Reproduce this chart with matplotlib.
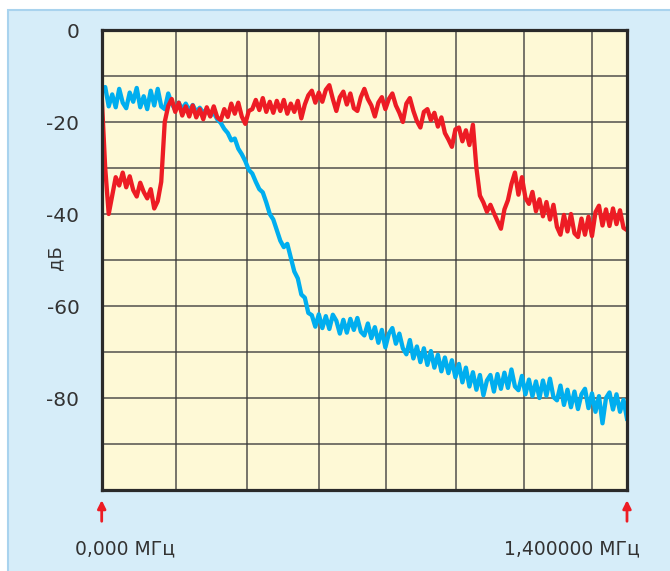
import numpy as np
import matplotlib.pyplot as plt
from matplotlib.patches import Rectangle
import matplotlib.transforms as mtransforms

# sweep 0 .. 1.4 MHz, levels in dB
f_start = 0.0
f_stop = 1.4

blue_db = [-13.5, -12.4, -16.6, -14.0, -16.8, -12.8, -15.8, -17.0, -13.6, -15.6,
           -12.6, -16.8, -14.4, -17.2, -13.2, -16.4, -12.8, -16.6, -17.2, -13.8,
           -16.0, -17.4,
           -15.8, -17.2, -16.0, -17.5, -16.3, -17.8, -16.9, -18.0, -17.2, -18.6,
           -18.0, -19.4, -20.2, -21.5, -22.4, -24.0, -23.6, -25.8, -27.0, -28.5,
           -30.4, -31.2, -33.0, -34.6, -35.3, -37.5, -40.0, -41.2, -43.5, -45.8,
           -47.2, -46.5, -49.5, -52.5, -54.0, -57.5, -58.2, -61.5,
           -62.0, -64.5, -61.8, -64.8, -62.2, -65.0, -61.9, -63.2, -66.0, -63.0,
           -65.8, -62.8, -65.2,
           -62.6, -65.6, -66.4, -63.8, -67.0, -64.6, -68.0, -65.2, -69.0, -66.0,
           -64.8, -68.2, -66.0, -69.2,
           -70.5, -67.4, -71.4, -68.8, -72.2, -69.2, -72.8, -69.8, -73.4, -70.6,
           -74.2, -71.2, -74.6, -71.8, -75.5, -72.6, -76.6, -73.4, -77.5, -74.4,
           -78.2, -75.0, -79.4, -76.2,
           -75.0, -78.6, -74.8, -78.0, -74.5, -77.8, -73.8, -77.5, -78.3, -75.2,
           -79.2, -76.0, -79.6, -76.4, -80.0, -76.2, -79.5, -75.8, -79.8, -80.5,
           -77.3, -81.5, -78.2, -82.0, -78.6, -82.4, -79.2, -78.0, -82.2, -79.0,
           -83.0, -79.6, -85.5, -80.0, -78.8, -82.5, -79.2, -83.0, -80.4, -84.5]

red_db = [-14.5, -30.0, -40.0, -36.0, -32.0, -33.8, -31.0, -34.2, -31.8, -34.8,
          -36.2, -33.2, -35.2, -36.6, -34.6, -38.8, -37.2, -33.0, -20.0, -16.5,
          -15.0, -17.8, -15.8, -18.6, -16.6, -18.8, -16.4, -19.0, -17.2, -19.4,
          -16.8, -18.8, -16.6, -19.0, -19.6, -17.2, -18.9, -16.0, -18.2, -15.8,
          -18.8, -20.4, -17.6, -17.2, -15.2, -17.4, -14.8, -17.8, -15.6, -18.0,
          -15.4, -17.6, -15.2, -18.2, -16.0, -17.8, -15.4, -19.2, -16.2, -14.2,
          -13.2, -15.8, -13.6, -15.6, -13.0, -12.0, -15.0, -17.6, -14.6, -13.4,
          -16.2, -13.8, -17.0, -17.6, -14.6, -12.8, -15.0, -16.4, -18.8, -15.8,
          -14.6, -17.2, -15.0, -13.8, -16.4, -18.0, -20.0, -16.0, -14.8, -17.6,
          -19.8, -21.2, -17.8, -17.2, -19.6, -18.0, -21.0, -19.0, -22.4, -23.8,
          -25.4, -21.6, -21.2, -24.2, -21.8, -25.0, -20.6, -30.0, -36.0, -37.5,
          -39.5, -38.0, -39.8,
          -41.5, -43.2, -39.0, -37.0, -33.5, -31.0, -35.8, -32.0, -36.5, -37.8,
          -35.2, -39.4, -36.8, -40.5, -37.4, -41.2, -38.0, -42.8, -44.5, -40.2,
          -43.8, -40.0, -44.2, -45.0, -41.0, -44.5, -40.6, -44.8, -39.6, -38.2,
          -42.5, -39.0, -42.6, -38.8, -42.2, -39.2, -43.0, -43.5]

x_grid = [0.199, 0.388, 0.579, 0.757, 0.943, 1.126, 1.306]
y_grid = [-10, -20, -30, -40, -50, -60, -70, -80, -90]
y_labels = ['0', '-20', '-40', '-60', '-80']

freq = np.linspace(f_start, f_stop, len(blue_db))

fig = plt.figure(figsize=(6.7, 5.71), dpi=100)
fig.patch.set_facecolor('white')
fig.patches.append(Rectangle((8 / 670, -0.05), 1.1, 1 - 10 / 571 + 0.05,
                             transform=fig.transFigure, facecolor='#D6EDF9',
                             edgecolor='#A9D3EE', lw=1.5, zorder=-1))

ax = fig.add_axes([101.7 / 670, 1 - 490 / 571, 525.3 / 670, 460 / 571])
ax.set_zorder(2)
ax.set_facecolor('#FEF9D6')
ax.set_xlim(f_start, f_stop)
ax.set_ylim(-100, 0)

for g in x_grid:
    ax.axvline(g, color='#3a3a3a', lw=1.3, alpha=0.75, zorder=1)
for g in y_grid:
    ax.axhline(g, color='#3a3a3a', lw=1.3, alpha=0.75, zorder=1)

ax.plot(freq, blue_db, color='#00AEEF', lw=3.1, zorder=3)
ax.plot(freq, red_db, color='#ED1C24', lw=3.1, zorder=4)

ax.set_xticks([])
ax.set_yticks([0, -20, -40, -60, -80])
ax.set_yticklabels(y_labels)
ax.tick_params(axis='y', length=0, pad=16, labelsize=14.5, labelcolor='#333333')
for s in ax.spines.values():
    s.set_linewidth(2.3)
    s.set_color('#2a2a2a')
    s.set_zorder(5)

fig.text(55 / 670, 1 - 258 / 571, 'дБ', rotation=90, ha='center', va='center',
         fontsize=13, color='#333333')

# red markers at both ends of the sweep
trans = mtransforms.blended_transform_factory(ax.transData, ax.transAxes)
for f in [f_start, f_stop]:
    ax.annotate('', xy=(f, -0.022), xytext=(f, -0.068), xycoords=trans,
                textcoords=trans, annotation_clip=False,
                arrowprops=dict(arrowstyle='-|>', color='#ED1C24', lw=2,
                                mutation_scale=12, shrinkA=0, shrinkB=0))

fig.text(75 / 670, 1 - 549 / 571, '0,000 МГц', ha='left', va='center',
         fontsize=13.5, color='#333333')
fig.text(640 / 670, 1 - 549 / 571, '1,400000 МГц', ha='right', va='center',
         fontsize=13.5, color='#333333')

plt.savefig('out.png', dpi=100)
